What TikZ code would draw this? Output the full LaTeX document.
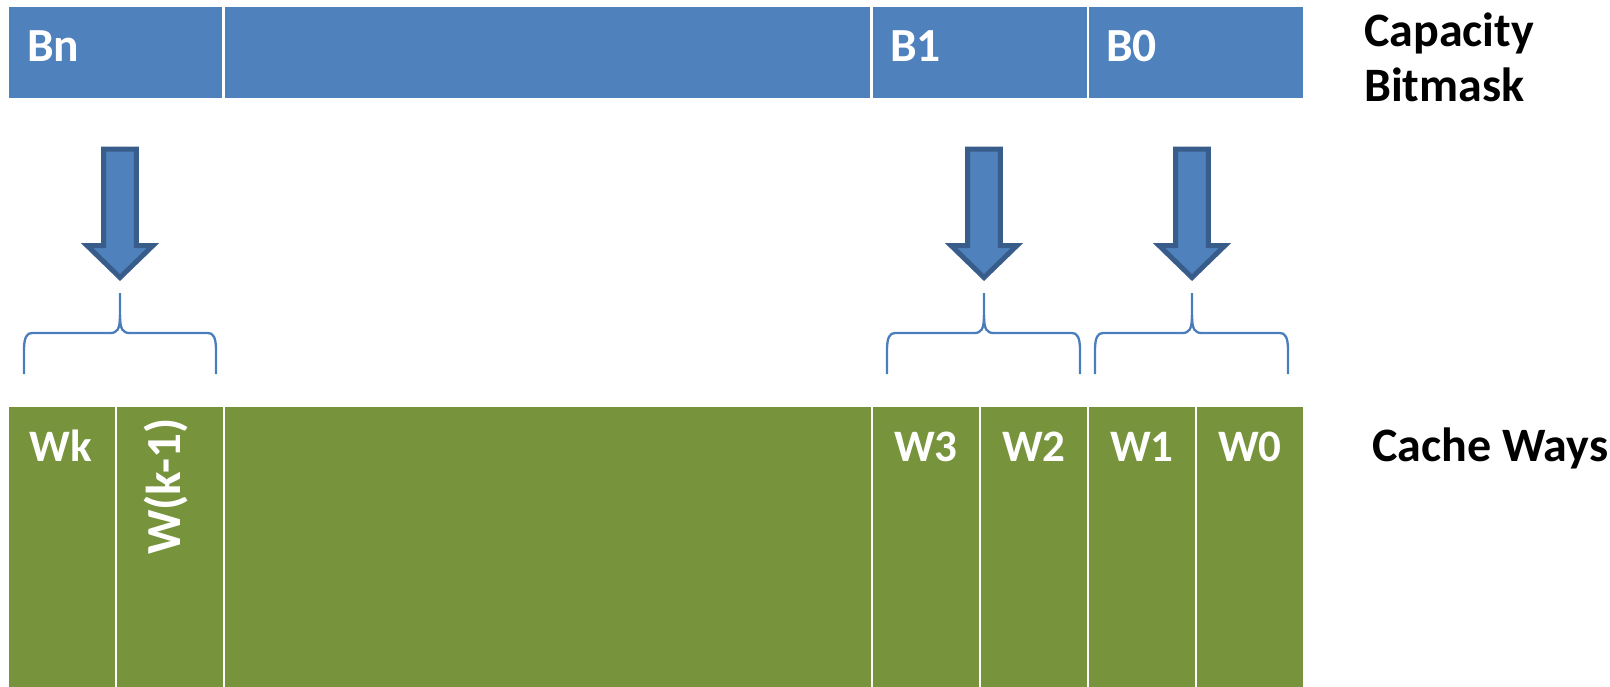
\documentclass[tikz,border=0pt]{standalone}
\usepackage{fontspec}
\setmainfont{Carlito}
\definecolor{maskblue}{HTML}{4F81BD}
\definecolor{maskedge}{HTML}{385D8A}
\definecolor{bracecol}{HTML}{4A7EBB}
\definecolor{wayolive}{HTML}{77933C}

% block arrow pointing down, centred on x = #1
\newcommand\maskarrow[1]{%
  \draw[maskarrow]
    ({#1-16.3},149) -- ({#1+16.3},149) -- ({#1+16.3},245.5) -- ({#1+33},245.5)
    -- (#1,277.5) -- ({#1-33},245.5) -- ({#1-16.3},245.5) -- cycle;}

% curly brace from x = #1 to x = #2 with its point at x = #3
\newcommand\waybrace[3]{%
  \draw[wbrace]
    (#1,374) -- (#1,350) .. controls (#1,337) and ({#1+3},333) .. ({#1+8},333)
    -- ({#3-10},333) .. controls ({#3-3},333) and (#3,330) .. (#3,315) -- (#3,293);
  \draw[wbrace]
    (#3,315) .. controls (#3,330) and ({#3+3},333) .. ({#3+10},333)
    -- ({#2-8},333) .. controls ({#2-3},333) and (#2,337) .. (#2,350) -- (#2,374);}

\begin{document}
\begin{tikzpicture}[x=1pt,y=-1pt,
  seg/.style={rectangle,draw=white,line width=2.5pt,inner sep=0pt},
  bitseg/.style={seg,fill=maskblue,minimum height=93pt},
  wayseg/.style={seg,fill=wayolive,minimum height=294pt,minimum width=108pt},
  lbl/.style={inner sep=0pt,text=white,font=\bfseries\fontsize{45}{54}\selectfont},
  bitlbl/.style={lbl,font=\bfseries\fontsize{47.5}{56}\selectfont},
  side/.style={inner sep=0pt,text=black,font=\bfseries\fontsize{48}{55}\selectfont},
  maskarrow/.style={draw=maskedge,fill=maskblue,line width=5pt,line join=miter},
  wbrace/.style={draw=bracecol,line width=2.3pt}]
\useasboundingbox (0,0) rectangle (1610,686);

% capacity bitmask row
\node[bitseg,minimum width=215.5pt] (bn)   at (115.75,52.5) {};
\node[bitseg,minimum width=648pt]   (bmid) at (547.5,52.5) {};
\node[bitseg,minimum width=216.5pt] (b1)   at (979.75,52.5) {};
\node[bitseg,minimum width=216pt]   (b0)   at (1196,52.5) {};
\node[bitlbl,anchor=base west] (tbn) at (27,61) {Bn};
\node[bitlbl,anchor=base west] (tb1) at (890,61) {B1};
\node[bitlbl,anchor=base west] (tb0) at (1106,61) {B0};

% cache ways row
\node[wayseg] (wk)  at (62,553) {};
\node[wayseg] (wk1) at (170,553) {};
\node[wayseg,minimum width=648pt] (wmid) at (548,553) {};
\node[wayseg] (w3)  at (926,553) {};
\node[wayseg] (w2)  at (1034,553) {};
\node[wayseg] (w1)  at (1142,553) {};
\node[wayseg] (w0)  at (1250,553) {};
\node[lbl,anchor=base] (twk) at (61,461) {Wk};
\node[lbl,anchor=base east,rotate=90,font=\bfseries\fontsize{49}{56}\selectfont]
  (twk1) at (180,418) {W(k-1)};
\node[lbl,anchor=base] (tw3) at (926,461) {W3};
\node[lbl,anchor=base] (tw2) at (1034,461) {W2};
\node[lbl,anchor=base] (tw1) at (1142,461) {W1};
\node[lbl,anchor=base] (tw0) at (1250,461) {W0};

% row captions
\node[side,anchor=base west] (cap1) at (1364,46.7) {Capacity};
\node[side,anchor=base west] (cap2) at (1364,101.7) {Bitmask};
\node[side,anchor=base west] (ways) at (1372,461) {Cache Ways};

% bit-to-way arrows and braces
\maskarrow{120}
\maskarrow{984}
\maskarrow{1192}
\waybrace{24}{216}{120}
\waybrace{887}{1080}{984}
\waybrace{1095}{1288}{1192}
\end{tikzpicture}
\end{document}
